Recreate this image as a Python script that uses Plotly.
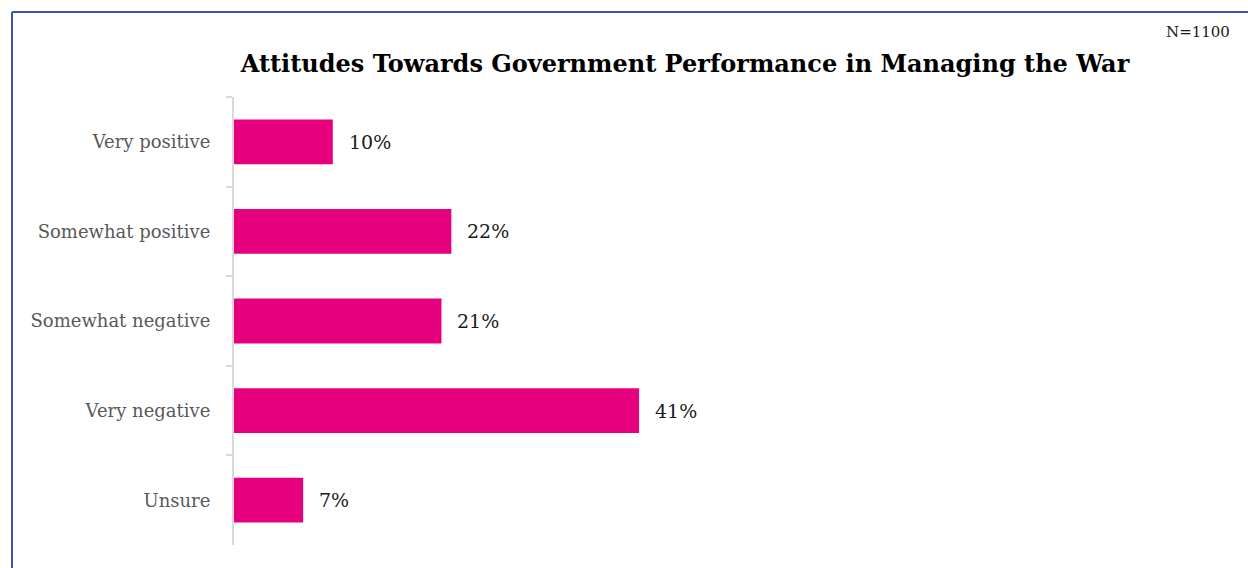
import plotly.graph_objects as go

# Survey responses (share of respondents, %)
categories = ["Very positive", "Somewhat positive", "Somewhat negative", "Very negative", "Unsure"]
values = [10, 22, 21, 41, 7]
value_labels = ["10%", "22%", "21%", "41%", "7%"]

title_text = "Attitudes Towards Government Performance in Managing the War"
sample_note = "N=1100"

W, H = 1248, 568
L, R, T, B = 234, 48, 97, 23
plot_w = W - L - R
plot_h = H - T - B

BAR = "#E6007E"
FRAME = "#3A54A8"
AXIS = "#D9D9D9"
SERIF = "DejaVu Serif, Georgia, serif"


def px_x(px):
    return (px - L) / plot_w


def px_y(py):
    return 1 - (py - T) / plot_h


fig = go.Figure(
    go.Bar(
        x=values,
        y=categories,
        orientation="h",
        marker=dict(color=BAR, line=dict(width=0)),
        width=0.5,
        hoverinfo="skip",
    )
)

# value labels just past the end of each bar
for cat, v, lab in zip(categories, values, value_labels):
    fig.add_annotation(
        x=v, y=cat, text=lab, showarrow=False,
        xanchor="left", yanchor="middle", xshift=14,
        font=dict(family=SERIF, size=19, color="#1a1a1a"),
    )

fig.add_annotation(
    x=px_x(1232), y=px_y(32), xref="paper", yref="paper",
    text=sample_note, showarrow=False, xanchor="right", yanchor="middle",
    font=dict(family=SERIF, size=15, color="#1a1a1a"),
)

# frame lines along the top and left
fig.add_shape(type="line", xref="paper", yref="paper",
              x0=px_x(12), x1=px_x(W + 5), y0=px_y(12), y1=px_y(12),
              line=dict(color=FRAME, width=2))
fig.add_shape(type="line", xref="paper", yref="paper",
              x0=px_x(12), x1=px_x(12), y0=px_y(12), y1=px_y(H + 5),
              line=dict(color=FRAME, width=2))

fig.update_layout(
    width=W, height=H,
    margin=dict(l=L, r=R, t=T, b=B),
    paper_bgcolor="white", plot_bgcolor="white",
    showlegend=False,
    title=dict(
        text=f"<b>{title_text}</b>",
        x=685 / W, xanchor="center", xref="container",
        y=1 - 64 / H, yanchor="middle", yref="container",
        font=dict(family=SERIF, size=24, color="#000000"),
    ),
    xaxis=dict(
        range=[0, plot_w / 9.88], visible=False, showgrid=False, zeroline=False,
    ),
    yaxis=dict(
        autorange="reversed",
        showline=True, linecolor=AXIS, linewidth=2,
        ticks="outside", tickson="boundaries", ticklen=6, tickcolor=AXIS, tickwidth=2,
        ticklabelstandoff=18,
        tickfont=dict(family=SERIF, size=18, color="#595959"),
        showgrid=False,
    ),
)

fig.write_html("out.html")
